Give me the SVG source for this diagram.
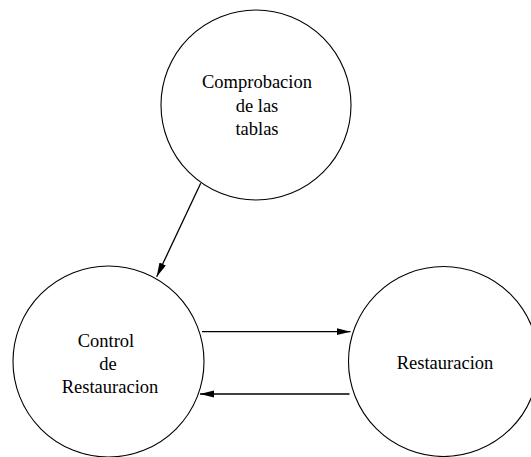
<svg xmlns="http://www.w3.org/2000/svg" width="531" height="457" viewBox="0 0 531 457">
  <style>
    .node circle { fill: #ffffff; stroke: #000000; stroke-width: 1.1; }
    .node text { font-family: "Liberation Serif", "Times New Roman", serif; font-size: 18.5px; fill: #000000; text-anchor: middle; }
    .edge { stroke: #000000; stroke-width: 1.3; fill: none; marker-end: url(#arrow); }
  </style>
  <defs>
    <marker id="arrow" markerUnits="userSpaceOnUse" markerWidth="15" markerHeight="8" refX="14" refY="3.5" orient="auto">
      <path d="M0,0 L14,3.5 L0,7 Z" fill="#000000"/>
    </marker>
  </defs>

  <g id="node-comprobacion" class="node">
    <circle cx="256" cy="105" r="95"/>
    <text x="257" y="88">Comprobacion</text>
    <text x="257" y="112">de las</text>
    <text x="257" y="135">tablas</text>
  </g>

  <g id="node-control" class="node">
    <circle cx="108.5" cy="361.5" r="95.5"/>
    <text x="106" y="347">Control</text>
    <text x="108" y="370">de</text>
    <text x="110" y="393">Restauracion</text>
  </g>

  <g id="node-restauracion" class="node">
    <circle cx="443.5" cy="361.5" r="95"/>
    <text x="445" y="369">Restauracion</text>
  </g>

  <g id="connectors">
    <line class="edge" x1="200.7" y1="183.3" x2="156.7" y2="276.7"/>
    <line class="edge" x1="202" y1="331.7" x2="350.5" y2="331.7"/>
    <line class="edge" x1="349.5" y1="394" x2="200" y2="394"/>
  </g>
</svg>
